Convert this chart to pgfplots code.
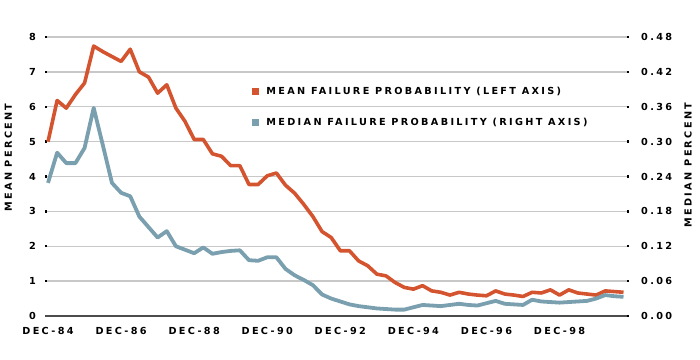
\documentclass[border=0pt]{standalone}
\usepackage{fontspec}
\setmainfont{DejaVu Sans}[LetterSpace=24, BoldFont={DejaVu Sans Bold}]
\usepackage{pgfplots}
\pgfplotsset{compat=1.18}
\definecolor{meanc}{RGB}{211,84,46}
\definecolor{medc}{RGB}{122,159,174}
\definecolor{gridc}{RGB}{200,200,200}
\begin{document}
\begin{tikzpicture}
\useasboundingbox (-45bp,-44bp) rectangle (655bp,316bp);
\pgfplotsset{
  common/.style={
    scale only axis, width=584bp, height=279bp,
    xmin=-0.33, xmax=63.6,
    font=\fontsize{9.7bp}{11bp}\selectfont\bfseries,
    /pgf/number format/assume math mode=true,
    xtick={0,8,16,24,32,40,48,56},
    xtick style={draw=none},
    major tick length=2bp,
    ytick style={black, line width=2.4bp},
  }
}
\begin{axis}[common,
  ymin=0, ymax=8, ytick={0,1,...,8},
  axis x line*=bottom, axis y line*=left,
  x axis line style={line width=1.4bp, color=black!70},
  y axis line style={draw=none},
  ymajorgrids, grid style={line width=1.4bp, gridc},
  xticklabels={DEC-84,DEC-86,DEC-88,DEC-90,DEC-92,DEC-94,DEC-96,DEC-98},
  xticklabel style={inner sep=0pt, yshift=-11.5bp},
  yticklabel style={inner sep=0pt, xshift=-9bp},
  ylabel={MEAN PERCENT},
  every axis y label/.style={at={(axis description cs:-0.0628,0.568)}, anchor=center, rotate=90},
  legend style={draw=none, fill=none, inner sep=0pt, at={(axis description cs:0.354,0.748)}, anchor=west,
    row sep=22bp, column sep=7bp, nodes={inner sep=0pt}, font=\fontsize{9.7bp}{11bp}\selectfont\bfseries},
  legend cell align=left,
  legend image code/.code={\fill[#1, draw=none] (0bp,-3.5bp) rectangle (7.5bp,4bp);},
]
\addplot[meanc, line width=3.6bp, line join=round] coordinates {
(0,5.00) (1,6.18) (2,5.96) (3,6.35) (4,6.68) (5,7.74) (6,7.58) (7,7.44)
(8,7.30) (9,7.65) (10,7.00) (11,6.85) (12,6.39) (13,6.63) (14,5.96) (15,5.58)
(16,5.06) (17,5.06) (18,4.65) (19,4.58) (20,4.31) (21,4.31) (22,3.77) (23,3.77)
(24,4.02) (25,4.10) (26,3.75) (27,3.52) (28,3.20) (29,2.85) (30,2.42) (31,2.25)
(32,1.87) (33,1.87) (34,1.58) (35,1.44) (36,1.20) (37,1.15) (38,0.96) (39,0.82)
(40,0.77) (41,0.87) (42,0.72) (43,0.68) (44,0.60) (45,0.68) (46,0.63) (47,0.60)
(48,0.58) (49,0.72) (50,0.63) (51,0.60) (52,0.56) (53,0.68) (54,0.66) (55,0.75)
(56,0.60) (57,0.75) (58,0.66) (59,0.63) (60,0.60) (61,0.72) (62,0.70) (63,0.68)
};
\addlegendentry{MEAN FAILURE PROBABILITY (LEFT AXIS)}
\addlegendimage{medc}
\addlegendentry{MEDIAN FAILURE PROBABILITY (RIGHT AXIS)}
\end{axis}
\begin{axis}[common,
  ymin=0, ymax=0.48, ytick={0,0.06,0.12,0.18,0.24,0.30,0.36,0.42,0.48},
  axis x line=none, axis y line*=right,
  y axis line style={draw=none},
  yticklabel style={inner sep=0pt, xshift=12bp, /pgf/number format/.cd, fixed, fixed zerofill, precision=2},
  ylabel={MEDIAN PERCENT},
  every axis y label/.style={at={(axis description cs:1.101,0.541)}, anchor=center, rotate=90},
]
\addplot[medc, line width=3.8bp, line join=round] coordinates {
(0,0.229) (1,0.281) (2,0.263) (3,0.263) (4,0.289) (5,0.358) (6,0.294) (7,0.229)
(8,0.212) (9,0.206) (10,0.171) (11,0.153) (12,0.135) (13,0.146) (14,0.120) (15,0.114)
(16,0.108) (17,0.118) (18,0.107) (19,0.110) (20,0.112) (21,0.113) (22,0.096) (23,0.095)
(24,0.101) (25,0.101) (26,0.081) (27,0.070) (28,0.062) (29,0.053) (30,0.037) (31,0.030)
(32,0.025) (33,0.020) (34,0.017) (35,0.015) (36,0.013) (37,0.012) (38,0.011) (39,0.011)
(40,0.015) (41,0.019) (42,0.018) (43,0.017) (44,0.019) (45,0.021) (46,0.019) (47,0.018)
(48,0.022) (49,0.026) (50,0.021) (51,0.020) (52,0.019) (53,0.028) (54,0.025) (55,0.024)
(56,0.023) (57,0.024) (58,0.025) (59,0.026) (60,0.030) (61,0.036) (62,0.034) (63,0.033)
};
\end{axis}
\end{tikzpicture}
\end{document}
